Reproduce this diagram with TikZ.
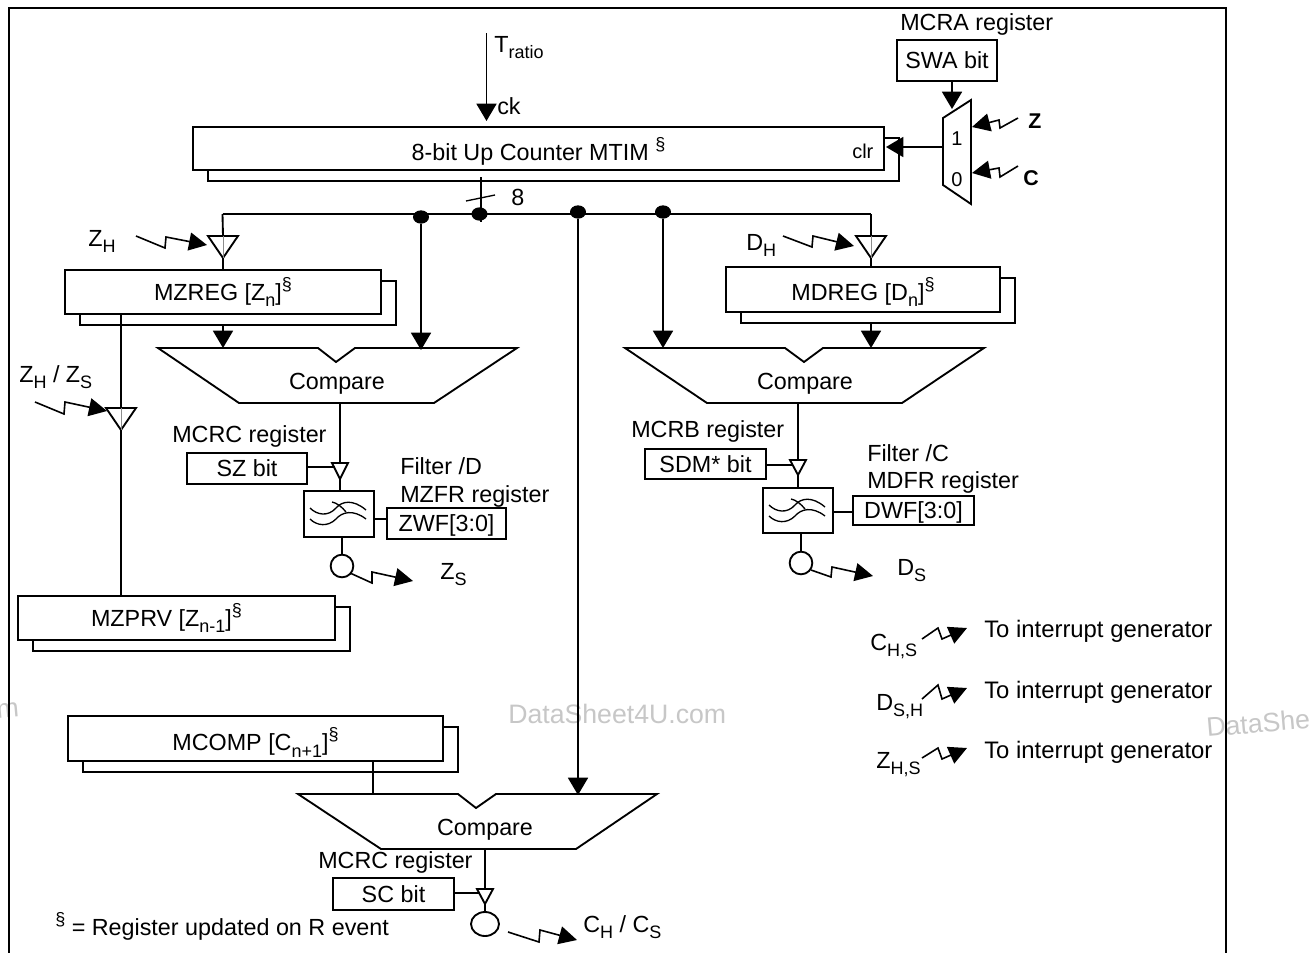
\documentclass[tikz,border=0pt]{standalone}
\usepackage{fontspec}
\setmainfont{Liberation Sans}
\usetikzlibrary{calc,arrows.meta,shapes.geometric}
\newcommand\lsub[1]{\raisebox{-0.27em}{\fontsize{13.5}{14}\selectfont #1}}
\newcommand\hsup[1]{\raisebox{0.42em}{\fontsize{13.5}{14}\selectfont #1}}
\tikzset{
  wire/.style={line width=1.4pt,line join=miter},
  thinwire/.style={line width=1pt},
  arr/.style={wire,-{Triangle[length=13pt,width=15pt]}},
  zap/.style={line width=1.2pt,-{Triangle[length=13.5pt,width=13.5pt]}},
  bxs/.style={draw,wire,fill=white,inner sep=0pt,text height=12.3pt,text depth=0pt},
  lab/.style={anchor=base west,inner sep=0pt},
  cmp/.style={inner sep=0pt,text height=12.3pt,text depth=0pt},
  dot/.style={ellipse,fill=black,inner sep=0pt,minimum width=12pt,minimum height=10pt},
  wm/.style={anchor=base west,inner sep=0pt,text=black!22,font=\fontsize{20}{22}\selectfont},
}
\newcommand\bx[6]{\node[bxs,minimum width={(#4-#2)*0.75pt},minimum height={(#5-#3)*0.75pt}] (#1) at ({(#2+#4)/2},{(#3+#5)/2}) {#6};}
\newcommand\reg[6]{%
  \draw[wire] ({#4},{#3+11}) -- ({#4+15},{#3+11}) |- ({#2+15},{#5+11}) -- ({#2+15},{#5});
  \bx{#1}{#2}{#3}{#4}{#5}{#6}}
\newcommand\buf[5]{%
  \coordinate (#1t) at (#2,#3); \coordinate (#1b) at (#2,#4);
  \draw[wire,fill=white] ({#2-#5},#3) -- ({#2+#5},#3) -- (#2,#4) -- cycle;}
\newcommand\bufline[3]{\draw[line width=.4pt,black!45] (#1,#2) -- (#1,#3);}
\newcommand\filt[2]{% cx, top
  \begin{scope}[shift={(#1,#2)},line width=1pt]
  \draw (-29,17) .. controls (-22,24) and (-11,26) .. (-3,17) .. controls (3,10) and (14,8) .. (27,19);
  \draw (-29,28) .. controls (-22,35) and (-11,36) .. (-3,28) .. controls (3,21) and (14,18) .. (27,28);
  \draw (-7,11) .. controls (-2,12) and (3,16) .. (7,21);
  \end{scope}}
\begin{document}
\begin{tikzpicture}[x=0.75pt,y=-0.75pt,font=\fontsize{17.5}{20}\selectfont]
\clip (0,0) rectangle (1311,953);
\fill[white] (0,0) rectangle (1311,953);
% watermarks
\node[wm] (wma) at (508,723) {DataSheet4U.com};
\node[wm,rotate=5] (wmb) at (1207,737) {DataShe};
\node[wm,rotate=5] (wmc) at (-3,719) {m};
% frame
\coordinate (fa) at (9,960); \coordinate (fb) at (9,8); \coordinate (fc) at (1226,8); \coordinate (fd) at (1226,960);
\draw[wire] (fa) -- (fb) -- (fc) -- (fd);

% registers
\reg{cnt}{193}{127}{884}{170}{\raisebox{-3pt}{8-bit Up Counter MTIM \hsup{§}}}
\reg{mzreg}{65}{270}{381}{314}{MZREG [Z\lsub{n}]\hsup{§}}
\reg{mdreg}{726}{267}{1000}{312}{\raisebox{-2pt}{MDREG [D\lsub{n}]\hsup{§}}}
\reg{mzprv}{18}{596}{335}{640}{\hspace*{-15pt}MZPRV [Z\lsub{n-1}]\hsup{§}}
\reg{mcomp}{68}{716}{443}{761}{\raisebox{-3pt}{MCOMP [C\lsub{n+1}]\hsup{§}}}

% small boxes
\bx{swa}{897}{40}{997}{81}{SWA bit}
\bx{sz}{187}{453}{307}{484}{SZ bit}
\bx{sdm}{645}{449}{766}{479}{SDM* bit}
\bx{sc}{333}{878}{454}{910}{SC bit}
\bx{zwf}{387}{508}{506}{539}{ZWF[3:0]}
\bx{dwf}{853}{496}{974}{525}{DWF[3:0]}
\bx{fz}{304}{491}{374}{537}{}
\bx{fd}{763}{488}{833}{533}{}
\filt{339}{491}
\filt{798}{488}

% counter labels
\node[lab,font=\fontsize{15}{16}\selectfont] (clr) at (852,158) {clr};

% Tratio
\coordinate (tr) at (486.5,33); \coordinate (trck) at (486.5,121);
\draw[arr] (tr) -- (trck);
\node[lab] (tratio) at (494,52) {T\lsub{ratio}};
\node[lab] (ck) at (497,114) {ck};

% bus
\coordinate (tka) at (481,177); \coordinate (tkb) at (481,222);
\draw[wire] (tka) -- (tkb);
\coordinate (sla) at (466,201); \coordinate (slb) at (495,195);
\draw[line width=1pt] (sla) -- (slb);
\node[lab] (eight) at (511,205) {8};
\coordinate (bl) at (222.5,214); \coordinate (br) at (871,214);
\draw[wire] (bl) -- (br);
\node[dot] (d1) at (421,217) {};
\node[dot] (d2) at (479.5,214) {};
\node[dot] (d3) at (578,212) {};
\node[dot] (d4) at (663,212) {};

% compares
\draw[wire] (158,348) -- (318,348) -- (336,362) -- (355,348) -- (517,348) -- (434,403) -- (239,403) -- cycle;
\node[cmp] (c1) at (337,381) {Compare};
\draw[wire] (625,348) -- (785,348) -- (804,362) -- (823,348) -- (984,348) -- (902,403) -- (707,403) -- cycle;
\node[cmp] (c2) at (805,381) {Compare};
\draw[wire] (298,794) -- (458,794) -- (476,808) -- (496,794) -- (657,794) -- (576,849) -- (381,849) -- cycle;
\node[cmp] (c3) at (485,827) {Compare};

% buffers with wires
\coordinate (mzin) at (223,325); \coordinate (mzcm) at (223,348);
\coordinate (d1cm) at (421,350);
\draw[arr] (mzin) -- (mzcm);
\draw[arr] (d1) -- (d1cm);
\coordinate (mdin) at (871,323); \coordinate (mdcm) at (871,348);
\coordinate (d4cm) at (663,348);
\draw[arr] (mdin) -- (mdcm);
\draw[arr] (d4) -- (d4cm);
\coordinate (d3cm) at (578,795);
\draw[arr] (d3) -- (d3cm);

\buf{bzh}{223}{236}{258}{15}
\bufline{223}{236}{258}
\draw[wire] (bl) -- (bzht); \draw[wire] (bzhb) -- (mzreg.north -| bzhb);
\buf{bdh}{871}{236}{258}{15}
\bufline{871}{236}{258}
\draw[wire] (br) -- (bdht); \draw[wire] (bdhb) -- (mdreg.north -| bdhb);
\buf{bzp}{121}{408}{430}{15}
\bufline{121}{408}{430}
\coordinate (zpa) at (121,314);
\draw[wire] (zpa) -- (bzpt); \draw[wire] (bzpb) -- (mzprv.north -| bzpb);

% filter chain 1
\coordinate (c1o) at (340,403);
\buf{bsz}{340}{463}{479}{8}
\draw[wire] (c1o) -- (bszt); \draw[wire] (bszb) -- (fz.north -| bszb);
\coordinate (szi) at (335,467); \draw[wire] (sz.east |- szi) -- (szi);
\draw[wire] (fz.east |- 0,519) -- (zwf.west |- 0,519);
\node[draw,wire,circle,inner sep=0pt,minimum size=17pt] (oz) at (342,566) {};
\draw[wire] (fz.south -| oz) -- (oz.north);
% filter chain 2
\coordinate (c2o) at (798,403);
\buf{bsd}{798}{460}{475}{8}
\draw[wire] (c2o) -- (bsdt); \draw[wire] (bsdb) -- (fd.north -| bsdb);
\coordinate (sdi) at (793,465); \draw[wire] (sdm.east |- sdi) -- (sdi);
\draw[wire] (fd.east |- 0,512) -- (dwf.west |- 0,512);
\node[draw,wire,circle,inner sep=0pt,minimum size=17pt] (od) at (801,563) {};
\draw[wire] (fd.south -| od) -- (od.north);
% chain 3
\coordinate (c3o) at (485,849);
\buf{bsc}{485}{889}{904}{8}
\draw[wire] (c3o) -- (bsct);
\coordinate (sci) at (480,893); \draw[wire] (sc.east |- sci) -- (sci);
\node[draw,wire,ellipse,inner sep=0pt,minimum width=21pt,minimum height=18pt] (oc) at (485,924) {};
\draw[wire] (bscb) -- (oc.north);
\coordinate (mcc) at (373,794);
\draw[thinwire] (mcomp.south -| mcc) -- (mcc);

% mux
\coordinate (m1) at (943,118); \coordinate (m2) at (971,100); \coordinate (m3) at (971,204); \coordinate (m4) at (943,185);
\draw[wire] (m1) -- (m2) -- (m3) -- (m4) -- cycle;
\node[font=\fontsize{15}{16}\selectfont,inner sep=0pt] (mux1) at (957,139) {1};
\node[font=\fontsize{15}{16}\selectfont,inner sep=0pt] (mux0) at (957,180) {0};
\coordinate (muxs) at (952,109); \coordinate (muxl) at (943,147); \coordinate (clrin) at (886,147);
\draw[arr] (swa.south -| muxs) -- (muxs);
\draw[arr] (muxl) -- (clrin);
\node[lab,font=\fontsize{16}{16}\bfseries\selectfont] (zz) at (1028,128) {Z};
\node[lab,font=\fontsize{16}{16}\bfseries\selectfont] (cc) at (1023,185) {C};
\draw[zap] (1018,118) -- (1000,128) -- (999,120) -- (972,127);
\draw[zap] (1018,166) -- (1000,177) -- (999,168) -- (972,173);

% lightning
\draw[zap] (136,236) -- (165,248) -- (166,237) -- (207,245);
\draw[zap] (783,236) -- (812,247) -- (813,236) -- (854,246);
\draw[zap] (35,402) -- (64,414) -- (65,402) -- (107,411);
\draw[zap] (oz) ++(8,7) -- (372,583) -- (372,572) -- (413,581);
\draw[zap] (od) ++(10,7) -- (831,577) -- (832,567) -- (873,576);
\draw[zap] (508,932) -- (539,942) -- (540,930) -- (577,940);
\draw[zap] (922,639) -- (938,628) -- (942,639) -- (967,628);
\draw[zap] (922,699) -- (938,685) -- (942,699) -- (967,688);
\draw[zap] (922,758) -- (938,748) -- (942,759) -- (967,748);

% labels
\node[lab] (lmcra) at (900,31) {MCRA register};
\node[lab] (lzh) at (88,246) {Z\lsub{H}};
\node[lab] (ldh) at (746,250) {D\lsub{H}};
\node[lab] (lzhs) at (19,382) {Z\lsub{H} / Z\lsub{S}};
\node[lab] (lzs) at (440,579) {Z\lsub{S}};
\node[lab] (lds) at (897,575) {D\lsub{S}};
\node[lab] (lmcrc) at (172,442) {MCRC register};
\node[lab] (lfd) at (400,474) {Filter /D};
\node[lab] (lmzfr) at (400,502) {MZFR register};
\node[lab] (lmcrb) at (631,437) {MCRB register};
\node[lab] (lfc) at (867,461) {Filter /C};
\node[lab] (lmdfr) at (867,488) {MDFR register};
\node[lab] (lmcrc2) at (318,868) {MCRC register};
\node[lab] (lnote) at (55,935) {\hsup{§} = Register updated on R event};
\node[lab] (lch) at (583,932) {C\lsub{H} / C\lsub{S}};
\node[lab] (lchs) at (870,650) {C\lsub{H,S}};
\node[lab] (ldsh) at (876,710) {D\lsub{S,H}};
\node[lab] (lzhs2) at (876,768) {Z\lsub{H,S}};
\node[lab,font=\fontsize{17.9}{20}\selectfont] (li1) at (984,637) {To interrupt generator};
\node[lab,font=\fontsize{17.9}{20}\selectfont] (li2) at (984,698) {To interrupt generator};
\node[lab,font=\fontsize{17.9}{20}\selectfont] (li3) at (984,758) {To interrupt generator};
\end{tikzpicture}
\end{document}
